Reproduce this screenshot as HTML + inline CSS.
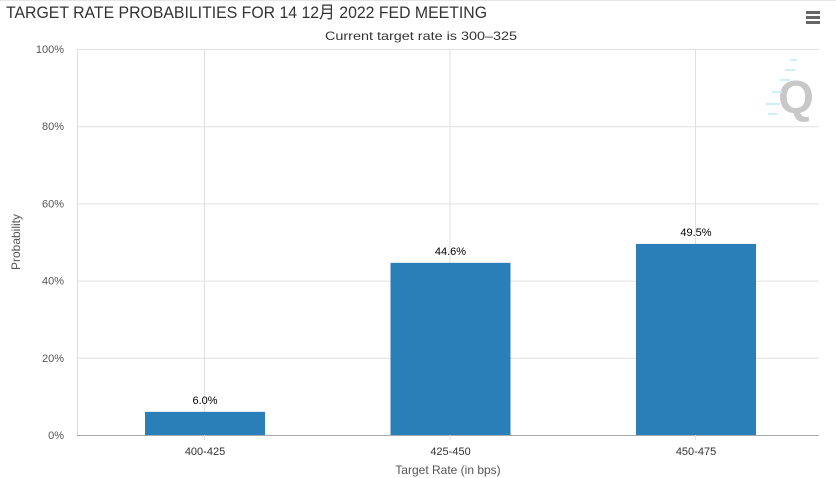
<!DOCTYPE html>
<html><head><meta charset="utf-8"><style>
body{margin:0;background:#fff;width:836px;height:478px;overflow:hidden}
svg{display:block;font-family:"Liberation Sans","Noto Sans CJK SC",sans-serif}
</style></head><body>
<svg id="chart" width="836" height="478">
<rect x="0" y="0" width="836" height="478" fill="#fff"/>
<line x1="0" y1="0.5" x2="836" y2="0.5" stroke="#e6e6e6"/>
<text x="6" y="18" font-size="17" fill="#333" textLength="481" lengthAdjust="spacingAndGlyphs">TARGET RATE PROBABILITIES FOR 14 12月 2022 FED MEETING</text>
<text x="325" y="40" font-size="12" fill="#333" textLength="192" lengthAdjust="spacingAndGlyphs">Current target rate is 300–325</text>
<g>
<rect x="806" y="11" width="14" height="3" fill="#666"/><rect x="806" y="16" width="14" height="3" fill="#666"/><rect x="806" y="21" width="14" height="3" fill="#666"/>
</g>
<g>
<text x="796" y="113" font-size="46" font-weight="bold" fill="#c8c8c8" text-anchor="middle">Q</text>
<g stroke="#cdeefa" stroke-width="2">
<line x1="790" y1="60" x2="797" y2="60"/><line x1="785" y1="70" x2="795" y2="70"/><line x1="780" y1="80" x2="790" y2="80"/><line x1="772" y1="92" x2="782" y2="92"/><line x1="766" y1="104" x2="780" y2="104"/><line x1="768" y1="114" x2="778" y2="114"/>
</g></g>
<g id="grid"></g><g id="bars"></g>
<text x="20" y="242" font-size="12" fill="#555" text-anchor="middle" transform="rotate(-90 20 242)">Probability</text>
<text x="448" y="474" font-size="12" fill="#555" text-anchor="middle">Target Rate (in bps)</text>
</svg>
<script>
const categories=["400-425","425-450","450-475"];
const values=[6.0,44.6,49.5];
const yTicks=[0,20,40,60,80,100];
const NS="http://www.w3.org/2000/svg";
const plotLeft=77,plotRight=819,plotTop=49,plotBottom=435;
function yScale(v){return plotBottom-(v/100)*(plotBottom-plotTop);}
function xc(i){return 205+i*245.5;}
function mk(tag,attrs,parent){const e=document.createElementNS(NS,tag);for(const k in attrs)e.setAttribute(k,attrs[k]);parent.appendChild(e);return e;}
const grid=document.getElementById('grid'),bars=document.getElementById('bars');
yTicks.forEach(t=>{
 const l=mk('line',{x1:plotLeft,x2:plotRight,y1:yScale(t)+0.5,y2:yScale(t)+0.5,stroke:t===0?'#aaa':'#e0e0e0'},grid);
 
 
 const tx=mk('text',{x:plotLeft-13,y:yScale(t)+4,'font-size':11,fill:'#555','text-anchor':'end'},grid);
 tx.textContent=t+'%';
 
 
});
const ax=mk('line',{x1:plotLeft+0.5,x2:plotLeft+0.5,y1:plotTop,y2:plotBottom,stroke:'#ddd'},grid);


categories.forEach((c,i)=>{
 const g=mk('line',{x1:xc(i)-0.5,x2:xc(i)-0.5,y1:plotTop,y2:plotBottom+5,stroke:'#e0e0e0'},grid);
 
 
 const b=mk('rect',{x:xc(i)-60,width:120,y:yScale(values[i]),height:plotBottom-yScale(values[i]),fill:'#2b7fb8'},bars);
 
 
 const lb=mk('text',{x:xc(i),y:yScale(values[i])-8,'font-size':11,fill:'#000','text-anchor':'middle'},bars);
 lb.textContent=values[i].toFixed(1)+'%';
 
 
 const xl=mk('text',{x:xc(i),y:455,'font-size':11,fill:'#333','text-anchor':'middle'},bars);
 xl.textContent=c;
 
 
});
</script>
</body></html>
